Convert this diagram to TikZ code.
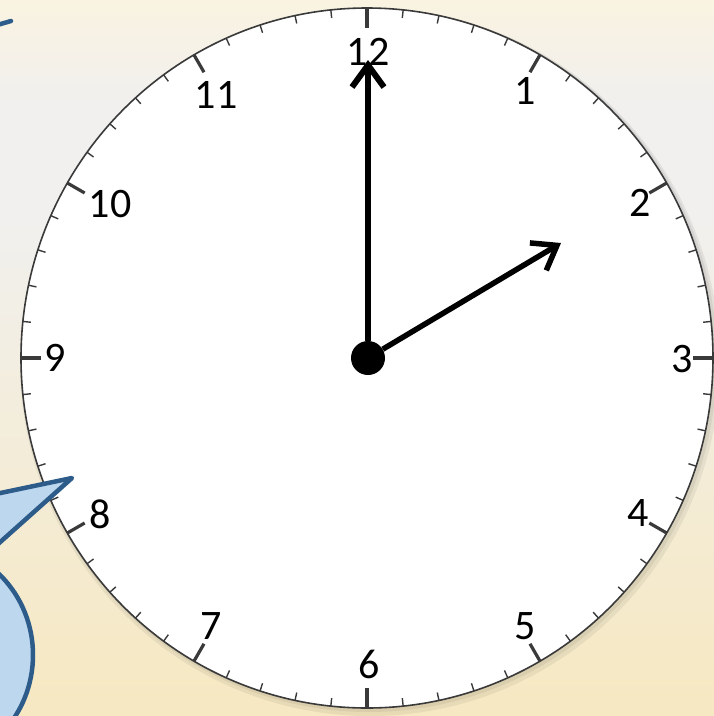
\documentclass[tikz,border=0pt]{standalone}
\usepackage{fontspec}
\setmainfont{Carlito}
\usetikzlibrary{arrows.meta,calc}
\definecolor{BgTop}{HTML}{FAF3E1}
\definecolor{BgGrey}{HTML}{F1F0EE}
\definecolor{BgBottom}{HTML}{F6E8C1}
\definecolor{BubbleFill}{HTML}{BDD7EE}
\definecolor{BubbleLine}{HTML}{2E5C8A}
\definecolor{RimGrey}{HTML}{3A3A3A}

\begin{document}
\begin{tikzpicture}[x=1pt,y=-1pt,
    hour/.style={font=\fontsize{42}{46}\selectfont,inner sep=0pt},
    hand/.style={line width=6pt,-{Straight Barb[length=22pt,width=32pt]}},
    bubble/.style={fill=BubbleFill,draw=BubbleLine,line width=4.5pt,line join=round}]
  \useasboundingbox (0,0) rectangle (714,716);
  \clip (0,0) rectangle (714,716);
  % background
  \fill[top color=BgTop,bottom color=BgGrey] (0,-1) rectangle (714,101);
  \fill[BgGrey] (0,100) rectangle (714,221);
  \fill[top color=BgGrey,bottom color=BgBottom] (0,220) rectangle (714,717);
  % clock face
  \fill[black,opacity=0.06] (370,362) ellipse [x radius=350,y radius=354];
  \fill[black,opacity=0.06] (369,360) ellipse [x radius=348,y radius=352];
  \draw[RimGrey,fill=white,line width=1.6pt] (367,358) ellipse [x radius=346,y radius=350];
  \foreach \m in {0,...,59} {
    \pgfmathsetmacro\len{mod(\m,5)==0 ? 20 : 8}
    \pgfmathsetmacro\wd{mod(\m,5)==0 ? 3.2 : 1.4}
    \draw[RimGrey,line width=\wd pt]
      ({367+346*sin(6*\m)},{358-350*cos(6*\m)}) --
      ({367+(346-\len)*sin(6*\m)},{358-(350-\len)*cos(6*\m)});
  }
  \foreach \h/\px/\py in {1/525/91,2/640/203,3/682/359,4/638/513,5/525/626,
      6/369/664,7/211/626,8/100/514,9/55/358,10/110/204,11/216/95,12/368/52}
    \node[hour] (h\h) at (\px,\py) {\h};
  % hands
  \node[circle,fill=black,minimum size=34pt,inner sep=0pt] (hub) at (368,358) {};
  \coordinate (minTip) at (368,60);
  \coordinate (hourTip) at (561,243);
  \draw[hand] (hub) -- (minTip);
  \draw[hand,line width=5.5pt] (hub) -- (hourTip);
  % speech bubbles at the left
  \draw[BubbleLine,line width=4.5pt,line cap=round] (-20,30) -- (11,21);
  \draw[bubble] (72,478) -- (-200,535) -- (-30,569) -- cycle;
  \draw[bubble] (-72,655) ellipse [x radius=105,y radius=110];
\end{tikzpicture}
\end{document}
